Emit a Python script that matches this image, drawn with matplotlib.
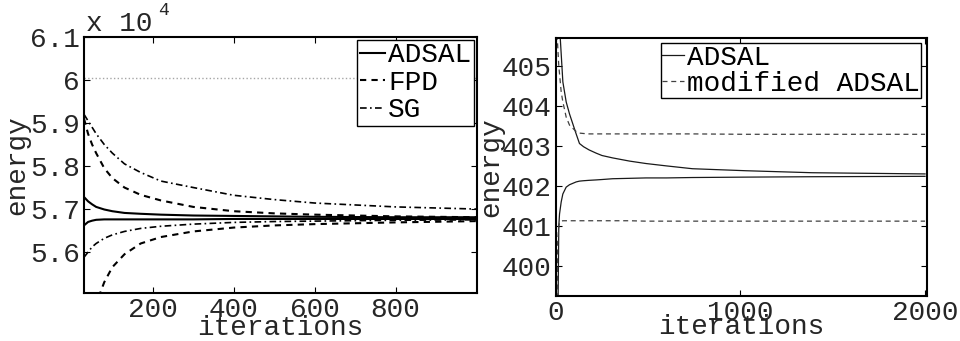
import numpy as np
import matplotlib as mpl
import matplotlib.pyplot as plt

mpl.rc('font', family='Liberation Mono', size=20)

# Left panel: energy in units of 1e4
iters_l = [30, 40, 50, 60, 80, 100, 130, 170, 220, 300, 400, 500, 600, 800, 1000]
adsal_up = [5.728, 5.718, 5.711, 5.705, 5.699, 5.695, 5.691, 5.689, 5.687, 5.685, 5.684, 5.683, 5.682, 5.681, 5.681]
adsal_lo = [5.662, 5.670, 5.673, 5.675, 5.676, 5.676, 5.676, 5.676, 5.676, 5.676, 5.677, 5.677, 5.677, 5.677, 5.677]
fpd_up = [5.91, 5.875, 5.85, 5.83, 5.795, 5.772, 5.75, 5.733, 5.72, 5.705, 5.695, 5.69, 5.687, 5.683, 5.681]
fpd_lo = [5.30, 5.38, 5.44, 5.48, 5.53, 5.565, 5.595, 5.62, 5.635, 5.648, 5.657, 5.662, 5.665, 5.669, 5.672]
sg_up = [5.92, 5.905, 5.89, 5.875, 5.85, 5.83, 5.805, 5.785, 5.765, 5.75, 5.732, 5.722, 5.714, 5.705, 5.70]
sg_lo = [5.588, 5.60, 5.612, 5.62, 5.632, 5.64, 5.648, 5.655, 5.66, 5.665, 5.669, 5.671, 5.672, 5.674, 5.675]
ref_level = 6.005

# Right panel
iters_r = [5, 10, 16, 20, 29, 38, 56, 74, 110, 128, 150, 180, 218, 250, 308, 400, 488, 600, 740, 1028, 1388, 2000]
r_adsal_up = [410, 408, 406.5, 406, 405.3, 404.6, 404.1, 403.8, 403.3, 403.06, 402.98, 402.9, 402.82, 402.76, 402.7,
              402.62, 402.56, 402.5, 402.43, 402.38, 402.33, 402.3]
r_adsal_lo = [395, 398, 401.0, 401.3, 401.6, 401.8, 401.97, 402.03, 402.1, 402.12, 402.13, 402.14, 402.15, 402.16,
              402.18, 402.19, 402.2, 402.2, 402.21, 402.22, 402.23, 402.24]
r_mod_up = [406, 405.5, 405, 404.8, 404.35, 404.1, 403.72, 403.52, 403.36, 403.32, 403.31, 403.3, 403.3, 403.3,
            403.3, 403.3, 403.3, 403.3, 403.3, 403.29, 403.29, 403.29]
r_mod_lo = [398, 400.6, 401.0, 401.08, 401.12, 401.13, 401.13, 401.13, 401.13, 401.13, 401.13, 401.13, 401.13,
            401.13, 401.13, 401.13, 401.12, 401.12, 401.12, 401.12, 401.12, 401.12]

fig = plt.figure(figsize=(9.6, 3.41), dpi=100)
ax1 = fig.add_axes([0.0875, 0.1408, 0.409, 0.751])
ax2 = fig.add_axes([0.579, 0.132, 0.3865, 0.757])

lw = 1.5
ax1.plot(iters_l, adsal_up, 'k-', lw=lw, label='ADSAL')
ax1.plot(iters_l, fpd_up, 'k--', lw=lw, label='FPD', dashes=(3, 2.5))
ax1.plot(iters_l, sg_up, 'k-.', lw=1.2, label='SG', dashes=(4, 2, 1, 2))
ax1.plot(iters_l, adsal_lo, 'k-', lw=lw)
ax1.plot(iters_l, fpd_lo, 'k--', lw=lw, dashes=(3, 2.5))
ax1.plot(iters_l, sg_lo, 'k-.', lw=1.2, dashes=(4, 2, 1, 2))
ax1.axhline(ref_level, color='0.65', lw=1, ls=':')
ax1.set_xlim(30, 1000)
ax1.set_ylim(5.505, 6.1)
ax1.set_xticks([200, 400, 600, 800])
ax1.set_yticks([5.6, 5.7, 5.8, 5.9, 6.0, 6.1])
ax1.set_yticklabels(['5.6', '5.7', '5.8', '5.9', '6', '6.1'])
ax1.text(0.005, 1.0, 'x 10', transform=ax1.transAxes, ha='left', va='bottom', color='0.15')
ax1.text(0.19, 1.07, '4', transform=ax1.transAxes, ha='left', va='bottom', fontsize=13, color='0.15')
ax1.legend(loc='upper right', handlelength=0.9, handletextpad=0.1, labelspacing=0.05,
           borderpad=0.1, borderaxespad=0.1, fancybox=False, edgecolor='k', framealpha=1)

lw2 = 0.9
ax2.plot(iters_r, r_adsal_up, '-', color='0.1', lw=lw2, label='ADSAL')
ax2.plot(iters_r, r_mod_up, '--', color='0.25', lw=lw2, label='modified ADSAL', dashes=(4, 3))
ax2.plot(iters_r, r_adsal_lo, '-', color='0.1', lw=lw2)
ax2.plot(iters_r, r_mod_lo, '--', color='0.25', lw=lw2, dashes=(4, 3))
ax2.set_xlim(0, 2010)
ax2.set_ylim(399.25, 405.7)
ax2.set_xticks([0, 1000, 2000])
ax2.set_yticks([400, 401, 402, 403, 404, 405])
ax2.legend(loc='upper right', handlelength=0.8, handletextpad=0.1, labelspacing=0.0,
           borderpad=0.05, borderaxespad=0.2, fancybox=False, edgecolor='k', framealpha=1)

for ax in [ax1, ax2]:
    for s in ax.spines.values():
        s.set_linewidth(1.5)
    ax.tick_params(direction='in', top=True, right=True, length=4, width=0.8, pad=3,
                   labelcolor='0.15')
    ax.tick_params(axis='x', pad=3)
ax1.set_xlabel('iterations', labelpad=-6, color='0.15')
ax2.set_xlabel('iterations', labelpad=-8.5, color='0.15')
ax1.set_ylabel('energy', labelpad=0, color='0.15')
ax2.set_ylabel('energy', labelpad=-2, color='0.15')

fig.savefig('out.png', dpi=100)
